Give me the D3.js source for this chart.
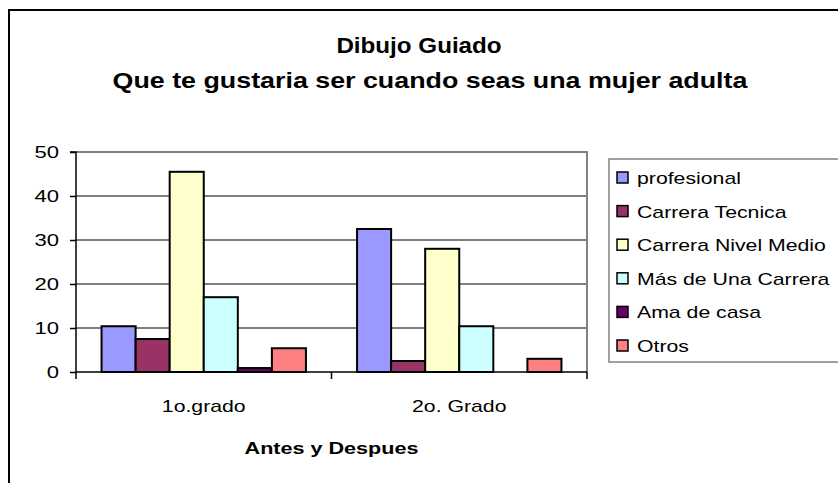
<!DOCTYPE html>
<html><head><meta charset="utf-8">
<script src="https://cdn.jsdelivr.net/npm/d3@7"></script>
<style>
html,body{margin:0;padding:0;background:#fff;}
svg text{font-family:"Liberation Sans",Arial,sans-serif;}
</style></head>
<body><svg id="c" width="838" height="483"></svg>
<script>
const categories = ["1o.grado", "2o. Grado"];
const seriesNames = ["profesional", "Carrera Tecnica", "Carrera Nivel Medio", "Más de Una Carrera", "Ama de casa", "Otros"];
const seriesColors = ["#9999FF", "#993366", "#FFFFCC", "#CCFFFF", "#660066", "#FF8080"];
const profesional = [10.4, 32.5];
const carreraTecnica = [7.5, 2.5];
const carreraNivelMedio = [45.5, 28.0];
const masDeUnaCarrera = [17.0, 10.4];
const amaDeCasa = [0.9, 0];
const otros = [5.4, 3.0];
const yTicks = [0, 10, 20, 30, 40, 50];
const titleLines = ["Dibujo Guiado", "Que te gustaria ser cuando seas una mujer adulta"];
const xTitle = "Antes y Despues";

const seriesValues = [profesional, carreraTecnica, carreraNivelMedio, masDeUnaCarrera, amaDeCasa, otros];
const SX = 1.25;

const svg = d3.select("#c");
function stext(parent, x, y, str, opts) {
  const g = parent.append("g").attr("transform", `translate(${x},${y}) scale(${opts.sx || SX},1)`);
  return g.append("text").attr("x", 0).attr("y", 0)
    .attr("text-anchor", opts.anchor || "start")
    .attr("font-size", opts.size || 17)
    .attr("font-weight", opts.weight || "normal")
    .attr("fill", "#000").text(str);
}

// outer chart border
svg.append("rect").attr("x", 9).attr("y", 10).attr("width", 860).attr("height", 500)
  .attr("fill", "#fff").attr("stroke", "#000").attr("stroke-width", 2);

const L = 76, R = 587, T = 152, B = 372;
const x0 = d3.scaleBand().domain(categories).range([L, R]).paddingInner(0).paddingOuter(0);
const y = d3.scaleLinear().domain([0, 50]).range([B, T]);
const groupW = x0.bandwidth() * 6 / 7.5;
const x1 = d3.scaleBand().domain(seriesNames).range([0, groupW]).padding(0);

// gridlines
svg.append("g").selectAll("line").data(yTicks.filter(d => d > 0)).join("line")
  .attr("x1", L).attr("x2", R).attr("y1", d => y(d)).attr("y2", d => y(d))
  .attr("stroke", "#000").attr("stroke-width", 1);

// plot border top/right (gray)
svg.append("path").attr("d", `M${L},${T}H${R}V${B}`).attr("fill", "none")
  .attr("stroke", "#808080").attr("stroke-width", 2);

// bars
const g = svg.append("g");
categories.forEach((c, ci) => {
  const gx = x0(c) + (x0.bandwidth() - groupW) / 2;
  seriesNames.forEach((s, si) => {
    const v = seriesValues[si][ci];
    if (v <= 0) return;
    g.append("rect")
      .attr("x", gx + x1(s)).attr("y", y(v))
      .attr("width", x1.bandwidth()).attr("height", y(0) - y(v))
      .attr("fill", seriesColors[si]).attr("stroke", "#000").attr("stroke-width", 2);
  });
});

// y axis
const yAxis = d3.axisLeft(y).tickValues(yTicks).tickSize(6).tickFormat(() => "");
const ya = svg.append("g").attr("transform", `translate(${L},0)`).call(yAxis);
ya.select(".domain").attr("stroke", "#000").attr("stroke-width", 1.5).attr("d", `M-6,${T}H0V${B}`);
ya.selectAll(".tick line").attr("stroke", "#000").attr("stroke-width", 1.5);
yTicks.forEach(t => stext(svg, 59, y(t) + 6, String(t), {anchor: "end", sx: 1.3}));

// x axis
const xa = svg.append("g").attr("transform", `translate(0,${B})`);
xa.append("line").attr("x1", L).attr("x2", R).attr("y1", 0).attr("y2", 0)
  .attr("stroke", "#000").attr("stroke-width", 1.5);
const xBounds = [L].concat(categories.map(c => x0(c) + x0.bandwidth()));
xa.selectAll("line.tk").data(xBounds).join("line").attr("class", "tk")
  .attr("x1", d => d).attr("x2", d => d).attr("y1", 0).attr("y2", 7)
  .attr("stroke", "#000").attr("stroke-width", 1.5);
categories.forEach(c => stext(svg, x0(c) + x0.bandwidth() / 2, B + 40, c, {anchor: "middle"}));

// x title
stext(svg, (L + R) / 2, 454, xTitle, {anchor: "middle", weight: "bold", sx: 1.27});

// titles
stext(svg, 419, 53, titleLines[0], {anchor: "middle", weight: "bold", size: 22, sx: 1.1});
stext(svg, 430, 88, titleLines[1], {anchor: "middle", weight: "bold", size: 22, sx: 1.22});

// legend
svg.append("rect").attr("x", 609).attr("y", 159).attr("width", 260).attr("height", 203)
  .attr("fill", "#fff").attr("stroke", "#808080").attr("stroke-width", 1.5);
const lg = svg.append("g");
seriesNames.forEach((s, i) => {
  const cy = 178 + i * 33.6;
  lg.append("rect").attr("x", 617).attr("y", cy - 6).attr("width", 11).attr("height", 11)
    .attr("fill", seriesColors[i]).attr("stroke", "#000").attr("stroke-width", 1.5);
  stext(lg, 637, cy + 6, s, {});
});
</script></body></html>
